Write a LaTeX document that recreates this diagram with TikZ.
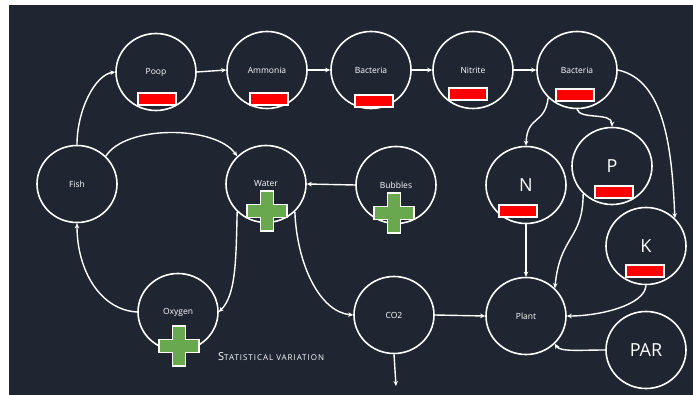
\documentclass[tikz,border=0pt]{standalone}
\usepackage{fontspec}
\setmainfont{Open Sans}
\usetikzlibrary{arrows.meta,shapes.geometric}
\definecolor{board}{HTML}{1F2631}
\definecolor{minusred}{HTML}{FF0000}
\definecolor{plusgreen}{HTML}{6AA84F}
\begin{document}
\begin{tikzpicture}[x=1pt,y=-1pt,
  bubble/.style={draw=white,line width=1.6pt,ellipse,minimum width=80pt,minimum height=77pt,inner sep=0pt,text=white,font=\fontsize{8.5}{10}\selectfont},
  bigbubble/.style={bubble,font=\fontsize{18}{19}\selectfont},
  link/.style={draw=white,line width=1.4pt,-{Stealth[length=5pt,width=4.5pt]}},
  minusbar/.style={draw=white,line width=1.2pt,fill=minusred,minimum width=38pt,minimum height=12pt,inner sep=0pt},
]
% canvas
\useasboundingbox (0,0) rectangle (693,395);
\fill[white] (0,0) rectangle (693,395);
\fill[board] (9,5) rectangle (693,395);

% nodes of the cycle
\node[bubble] (poop) at (156,72) {Poop};
\node[bubble] (ammonia) at (267,70) {Ammonia};
\node[bubble] (bact1) at (371,70) {Bacteria};
\node[bubble] (nitrite) at (473,70) {Nitrite};
\node[bubble] (bact2) at (577,70) {Bacteria};
\node[bubble] (fish) at (77,184) {Fish};
\node[bubble] (water) at (266,184) {Water};
\node[bubble] (bubbles) at (396,185) {Bubbles};
\node[bigbubble] (n) at (526,185) {N};
\node[bigbubble] (p) at (612,166) {P};
\node[bigbubble] (k) at (646,246) {K};
\node[bubble] (oxygen) at (178,312) {Oxygen};
\node[bubble] (co2) at (394,315) {CO2};
\node[bubble] (plant) at (526,316) {Plant};
\node[bigbubble] (par) at (646,350) {PAR};
\coordinate (sink) at (396,386);

% connectors
\draw[link] (fish.north) .. controls (77,110) and (95,75) .. (poop.west);
\draw[link] (poop.east) -- (ammonia.west);
\draw[link] (ammonia.east) -- (bact1.west);
\draw[link] (bact1.east) -- (nitrite.west);
\draw[link] (nitrite.east) -- (bact2.west);
\draw[link] (fish.north east) .. controls (125,125) and (215,125) .. (water.north west);
\draw[link] (bubbles.west) -- (water.east);
\draw[link] (water.south west) .. controls (236,260) and (236,295) .. (oxygen.east);
\draw[link] (oxygen.west) .. controls (100,310) and (77,270) .. (fish.south);
\draw[link] (water.south east) .. controls (297,265) and (320,312) .. (co2.west);
\draw[link] (co2.east) -- (plant.west);
\draw[link] (co2.south) -- (sink);
\draw[link] (bact2.south west) .. controls (545,125) and (527,115) .. (n.north);
\draw[link] (bact2.south) .. controls (580,120) and (612,112) .. (p.north);
\draw[link] (bact2.east) .. controls (665,80) and (672,150) .. (k.north east);
\draw[link] (n.south) -- (plant.north);
\draw[link] (p.south west) .. controls (583,240) and (560,235) .. (plant.north east);
\draw[link] (k.south) .. controls (645,305) and (600,316) .. (plant.east);
\draw[link] (par.west) .. controls (580,350) and (560,352) .. (plant.south east);

% negative markers
\node[minusbar] (m1) at (157,99) {};
\node[minusbar] (m2) at (269,99) {};
\node[minusbar] (m3) at (374,101) {};
\node[minusbar] (m4) at (468,94) {};
\node[minusbar] (m5) at (575,95) {};
\node[minusbar] (m6) at (518,211) {};
\node[minusbar] (m7) at (614,192) {};
\node[minusbar] (m8) at (645,271) {};

% positive markers
\foreach \px/\py in {267/211, 394/213, 179/346}{
  \filldraw[fill=plusgreen,draw=white,line width=1.2pt]
    (\px-6.5,\py-20) -- (\px+6.5,\py-20) -- (\px+6.5,\py-6.5) -- (\px+20,\py-6.5)
    -- (\px+20,\py+6.5) -- (\px+6.5,\py+6.5) -- (\px+6.5,\py+20) -- (\px-6.5,\py+20)
    -- (\px-6.5,\py+6.5) -- (\px-20,\py+6.5) -- (\px-20,\py-6.5) -- (\px-6.5,\py-6.5) -- cycle;
}

\node[anchor=west,text=white,inner sep=0pt] (note) at (218,357)
  {\addfontfeature{LetterSpace=12}\fontsize{11}{12}\selectfont S\fontsize{8}{9}\selectfont TATISTICAL VARIATION};
\end{tikzpicture}
\end{document}
